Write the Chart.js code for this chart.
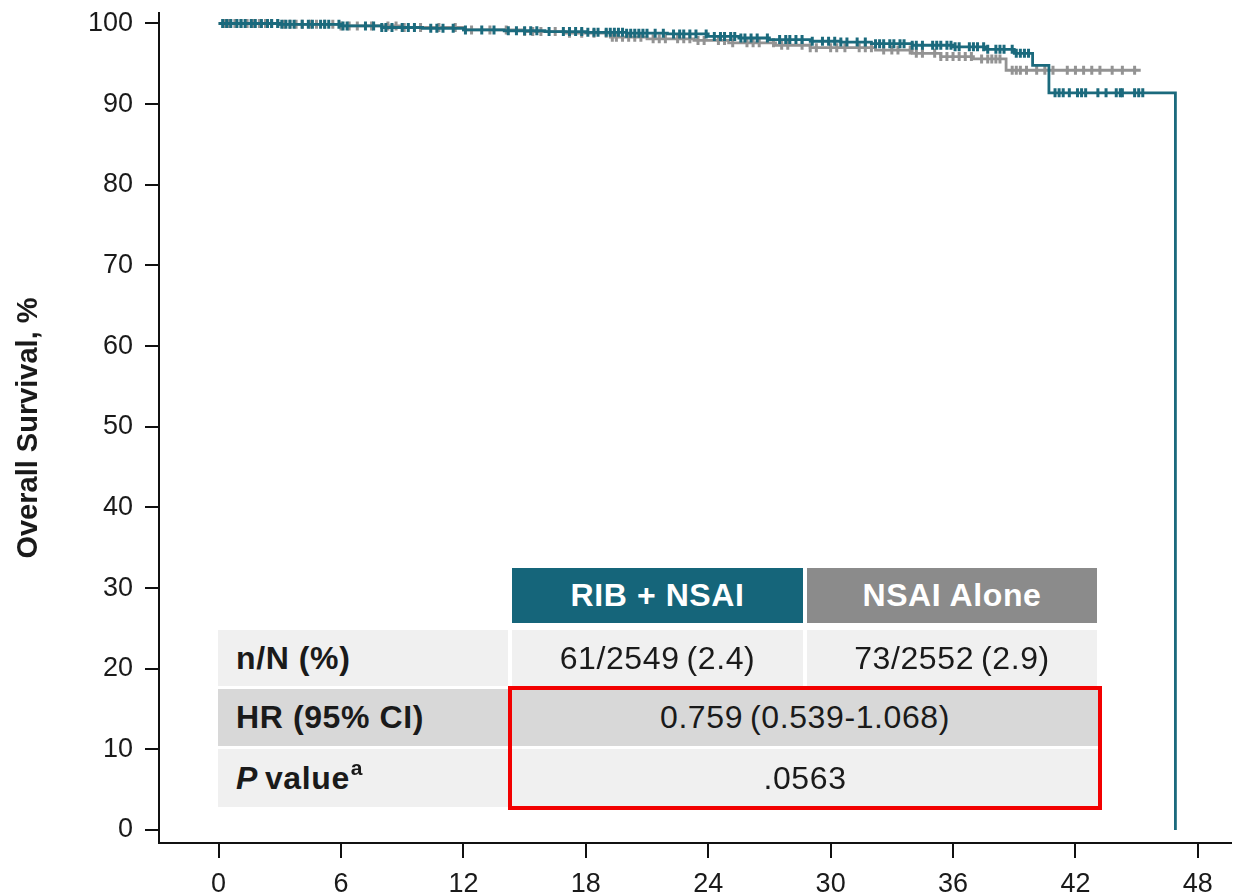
<!DOCTYPE html>
<html>
<head>
<meta charset="utf-8">
<script src="https://cdn.jsdelivr.net/npm/chart.js@4.4.1/dist/chart.umd.min.js"></script>
<style>
  html, body { margin: 0; padding: 0; background: #fff; }
  #wrap { position: relative; width: 1238px; height: 896px; overflow: hidden; }
  #wrap canvas { position: absolute; left: 0; top: 0; }
  .cell { position: absolute; display: flex; align-items: center; justify-content: center;
          font-family: "Liberation Sans", Arial, sans-serif; font-size: 32px; letter-spacing: 0.6px;
          color: #1a1a1a; box-sizing: border-box; white-space: nowrap; }
  .lab { justify-content: flex-start; padding-left: 18px; font-weight: bold; }
  .hdr { color: #fff; font-weight: bold; }
  .sup { font-size: 21px; position: relative; top: -10px; margin-left: 1px; }
  #redbox { position: absolute; border: 4px solid #f20000; box-sizing: border-box; }
</style>
</head>
<body>
<div id="wrap">
  <canvas id="c" width="1238" height="896"></canvas>

  <div class="cell hdr" style="left:512px;top:568px;width:291px;height:55px;background:#15657a;">RIB + NSAI</div>
  <div class="cell hdr" style="left:807px;top:568px;width:290px;height:55px;background:#8b8b8b;">NSAI Alone</div>

  <div class="cell lab" style="left:218px;top:630px;width:290px;height:56px;background:#f0f0f0;">n/N (%)</div>
  <div class="cell" style="left:512px;top:630px;width:291px;height:56px;background:#f0f0f0;">61/2549&#8201;(2.4)</div>
  <div class="cell" style="left:807px;top:630px;width:290px;height:56px;background:#f0f0f0;">73/2552&#8201;(2.9)</div>

  <div class="cell lab" style="left:218px;top:689px;width:290px;height:57px;background:#d8d8d8;">HR (95% CI)</div>
  <div class="cell" style="left:508px;top:689px;width:594px;height:57px;background:#d8d8d8;">0.759&#8201;(0.539-1.068)</div>

  <div class="cell lab" style="left:218px;top:749px;width:290px;height:58px;background:#f0f0f0;"><i>P</i>&#8201;value<span class="sup">a</span></div>
  <div class="cell" style="left:508px;top:749px;width:594px;height:58px;background:#f0f0f0;">.0563</div>

  <div id="redbox" style="left:508px;top:686px;width:594px;height:124px;"></div>
</div>

<script>
// ---- tick labels ----
const monthTicks = [0, 6, 12, 18, 24, 30, 36, 42, 48];
const survivalTicks = [0, 10, 20, 30, 40, 50, 60, 70, 80, 90, 100];

// ---- RIB + NSAI Kaplan-Meier steps (months, % surviving) ----
const ribTimes = [0, 3, 6, 8, 10, 12, 14, 16, 18, 20, 22, 24, 25.5, 27, 29, 30.5, 32, 34, 36, 37.6, 39, 39.9, 40.7, 46.9];
const ribSurv  = [100, 99.9, 99.7, 99.5, 99.4, 99.2, 99.1, 99.0, 98.9, 98.8, 98.7, 98.4, 98.2, 98.0, 97.8, 97.7, 97.5, 97.3, 97.1, 96.8, 96.3, 94.8, 91.4, 0];

// ---- NSAI alone Kaplan-Meier steps ----
const nsaiTimes = [0, 3, 6, 9, 12, 15, 17, 19.2, 21, 23.3, 25, 27.3, 29, 32.2, 34, 35.4, 37, 38.6, 45.2];
const nsaiSurv  = [100, 99.9, 99.7, 99.5, 99.2, 99.0, 98.8, 98.3, 98.1, 97.9, 97.6, 97.3, 97.0, 96.7, 96.3, 95.9, 95.6, 94.2, 94.2];

// ---- censoring times (months) ----
const ribCensor = [0.2,0.4,0.6,0.9,1.1,1.3,1.6,1.8,2.1,2.4,2.6,2.9,3.1,3.3,3.5,3.7,4.1,4.4,4.6,5.0,5.2,5.4,5.9,6.1,6.3,7.2,7.6,8.0,8.2,8.5,9.0,9.3,9.6,10.4,10.7,11.0,11.5,12.1,12.9,13.5,14.2,14.6,15.0,15.3,15.6,16.2,16.9,17.2,17.5,17.8,18.1,18.4,18.6,19.0,19.2,19.4,19.6,19.8,20.0,20.2,20.4,20.6,20.8,21.0,21.4,21.8,22.3,22.6,22.8,23.1,23.4,23.9,24.3,24.6,24.8,25.1,25.3,25.6,25.8,26.1,26.4,26.9,27.5,27.8,28.0,28.3,28.6,29.1,29.6,29.9,30.2,30.5,30.8,31.3,31.7,32.2,32.4,32.6,32.9,33.1,33.4,33.6,34.0,34.2,34.5,35.0,35.2,35.4,35.7,35.9,36.1,36.3,36.8,37.0,37.2,37.5,37.7,38.1,38.3,38.5,38.9,39.1,39.3,39.5,39.7,41.0,41.2,41.4,41.7,42.1,42.3,42.5,43.1,43.5,44.0,44.2,44.3,44.9,45.1,45.3];
const nsaiCensor = [0.3,0.5,0.8,1.1,1.4,1.7,2.0,2.3,2.6,2.9,3.2,3.5,3.8,4.1,4.5,4.8,5.2,5.6,6.0,6.4,6.8,7.5,8.3,8.7,9.1,9.9,10.8,11.6,12.4,13.3,14.1,15.0,15.4,15.8,16.5,17.2,17.8,18.4,19.0,19.3,19.5,19.8,20.1,20.4,20.7,21.3,21.6,21.9,22.5,22.8,23.1,23.5,23.8,24.5,24.8,25.2,25.9,26.2,26.5,27.2,27.6,27.9,28.6,29.0,29.3,30.0,30.3,30.7,31.4,31.7,32.0,32.6,33.0,33.3,33.9,34.2,34.5,35.1,35.4,35.7,36.0,36.3,36.6,36.9,37.4,37.7,37.9,38.1,38.3,38.9,39.1,39.3,39.6,40.1,40.5,40.9,41.6,42.0,42.4,42.8,43.2,43.8,44.3,44.9];

function steps(times, surv) { return times.map((t, i) => ({x: t, y: surv[i]})); }
function survAt(times, surv, t) {
  let v = surv[0];
  for (let i = 0; i < times.length; i++) { if (times[i] <= t) v = surv[i]; }
  return v;
}
function marks(censor, times, surv) { return censor.map(t => ({x: t, y: survAt(times, surv, t)})); }

const TEAL = '#1b6a7d';
const GRAY = '#939393';
const FONT = '"Liberation Sans", Arial, sans-serif';

new Chart(document.getElementById('c'), {
  type: 'line',
  data: {
    datasets: [
      { label: 'RIB + NSAI', data: steps(ribTimes, ribSurv), stepped: true, borderColor: TEAL, borderWidth: 2.8,
        pointRadius: 0, fill: false, order: 1 },
      { label: 'RIB + NSAI censored', type: 'scatter', data: marks(ribCensor, ribTimes, ribSurv),
        pointStyle: 'line', rotation: 90, radius: 4.5, borderColor: TEAL, backgroundColor: TEAL, borderWidth: 3, order: 0 },
      { label: 'NSAI Alone', data: steps(nsaiTimes, nsaiSurv), stepped: true, borderColor: GRAY, borderWidth: 2.8,
        pointRadius: 0, fill: false, order: 3 },
      { label: 'NSAI Alone censored', type: 'scatter', data: marks(nsaiCensor, nsaiTimes, nsaiSurv),
        pointStyle: 'line', rotation: 90, radius: 4.5, borderColor: GRAY, backgroundColor: GRAY, borderWidth: 3, order: 2 }
    ]
  },
  options: {
    responsive: false,
    animation: false,
    layout: { padding: { top: 13, left: 0, right: 0, bottom: 0 } },
    plugins: { legend: { display: false }, tooltip: { enabled: false } },
    scales: {
      x: {
        type: 'linear', min: -2.92, max: 49.6,
        afterBuildTicks: s => { s.ticks = monthTicks.map(v => ({value: v})); },
        afterFit: s => { s.height = 53; s.paddingLeft = 0; s.paddingRight = 0; },
        grid: { display: true, drawOnChartArea: false, drawTicks: true, tickLength: 15, color: '#111', lineWidth: 2 },
        border: { display: true, color: '#111', width: 2 },
        ticks: { color: '#1a1a1a', font: { family: FONT, size: 27 }, padding: 10, maxRotation: 0, autoSkip: false }
      },
      y: {
        type: 'linear', min: -1.61, max: 101.3,
        afterBuildTicks: s => { s.ticks = survivalTicks.map(v => ({value: v})); },
        afterFit: s => { s.width = 159; s.paddingTop = 0; s.paddingBottom = 0; },
        grid: { display: true, drawOnChartArea: false, drawTicks: true, tickLength: 14, color: '#111', lineWidth: 2 },
        border: { display: true, color: '#111', width: 2 },
        ticks: { color: '#1a1a1a', font: { family: FONT, size: 27 }, padding: 12, autoSkip: false },
        title: { display: true, text: 'Overall Survival, %', color: '#1a1a1a',
                 font: { family: FONT, size: 29, weight: 'bold' }, padding: { top: 12, bottom: 0 } }
      }
    }
  }
});
</script>
</body>
</html>
